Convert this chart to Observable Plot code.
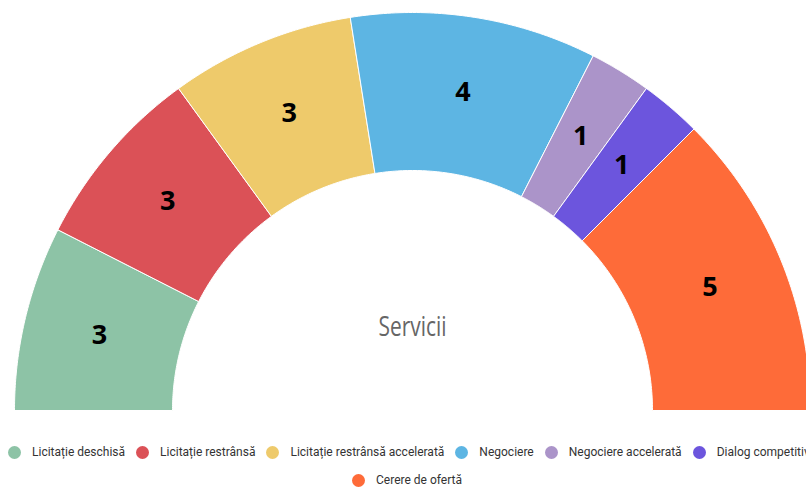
<!DOCTYPE html>
<html>
<head>
<meta charset="utf-8">
<script src="https://cdn.jsdelivr.net/npm/d3@7"></script>
<script src="https://cdn.jsdelivr.net/npm/@observablehq/plot@0.6"></script>
<style>
  html, body { margin: 0; padding: 0; background: #fff; width: 806px; height: 487px; overflow: hidden; }
  #chart { position: absolute; left: 0; top: 0; }
  .legend-row { position: absolute; white-space: nowrap; font-family: Roboto, "Noto Sans", sans-serif; font-size: 12px; color: #333; display: flex; align-items: center; }
  .item { display: inline-flex; align-items: center; margin-right: 5px; }
  .dot { width: 13px; height: 13px; border-radius: 50%; display: inline-block; margin-right: 11px; }
  .label { margin-right: 6px; }
</style>
</head>
<body>
<div id="chart"></div>
<div id="row1" class="legend-row" style="left:8px; top:445px;"></div>
<div id="row2" class="legend-row" style="left:352px; top:473px;"></div>
<script>
const categories = ["Licitație deschisă", "Licitație restrânsă", "Licitație restrânsă accelerată", "Negociere", "Negociere accelerată", "Dialog competitiv", "Cerere de ofertă"];
const values = [3, 3, 3, 4, 1, 1, 5];
const colors = ["#8dc3a6", "#db5157", "#eeca6b", "#5db5e3", "#ab94c9", "#6c55dd", "#fe6b39"];
const centerTitle = "Servicii";

const W = 806, H = 420;
const cx = 412, cy = 410;
const R = 398, r0 = 240, rLabel = 322;

const total = d3.sum(values);
let cum = 0;
const polys = [];
const labels = [];
categories.forEach((cat, i) => {
  const a0 = Math.PI - (cum / total) * Math.PI;
  cum += values[i];
  const a1 = Math.PI - (cum / total) * Math.PI;
  const n = 60;
  for (let k = 0; k <= n; k++) {
    const a = a0 + (a1 - a0) * k / n;
    polys.push({cat, x: R * Math.cos(a), y: R * Math.sin(a)});
  }
  for (let k = n; k >= 0; k--) {
    const a = a0 + (a1 - a0) * k / n;
    polys.push({cat, x: r0 * Math.cos(a), y: r0 * Math.sin(a)});
  }
  polys.push({cat, x: R * Math.cos(a0), y: R * Math.sin(a0)});
  const am = (a0 + a1) / 2;
  labels.push({cat, v: values[i], x: rLabel * Math.cos(am), y: rLabel * Math.sin(am)});
});

const chart = Plot.plot({
  width: W,
  height: H,
  margin: 0,
  marginBottom: H - cy,
  x: {domain: [-cx, W - cx], axis: null},
  y: {domain: [0, cy], axis: null},
  color: {domain: categories, range: colors},
  style: {background: "transparent", overflow: "visible"},
  marks: [
    Plot.line(polys, {x: "x", y: "y", z: "cat", fill: "cat", stroke: "#fff", strokeWidth: 1, curve: "linear"}),
    Plot.text(labels, {x: "x", y: "y", text: "v", fontSize: 27, fontWeight: "bold", fill: "#000", fontFamily: "'Open Sans', sans-serif"}),
    Plot.text([centerTitle], {x: 0, y: cy - 327, text: d => d, fontSize: 28, fill: "#666", className: "center-title", fontFamily: "'Open Sans', sans-serif"})
  ]
});
chart.querySelectorAll(".center-title text").forEach(t => {
  t.setAttribute("textLength", 68);
  t.setAttribute("lengthAdjust", "spacingAndGlyphs");
});
document.getElementById("chart").appendChild(chart);

function addItem(row, i) {
  const item = document.createElement("span");
  item.className = "item";
  const dot = document.createElement("span");
  dot.className = "dot";
  dot.style.background = colors[i];
  const lab = document.createElement("span");
  lab.className = "label";
  lab.textContent = categories[i];
  item.appendChild(dot);
  item.appendChild(lab);
  row.appendChild(item);
}
const row1 = document.getElementById("row1");
for (let i = 0; i < 6; i++) addItem(row1, i);
addItem(document.getElementById("row2"), 6);
</script>
</body>
</html>
